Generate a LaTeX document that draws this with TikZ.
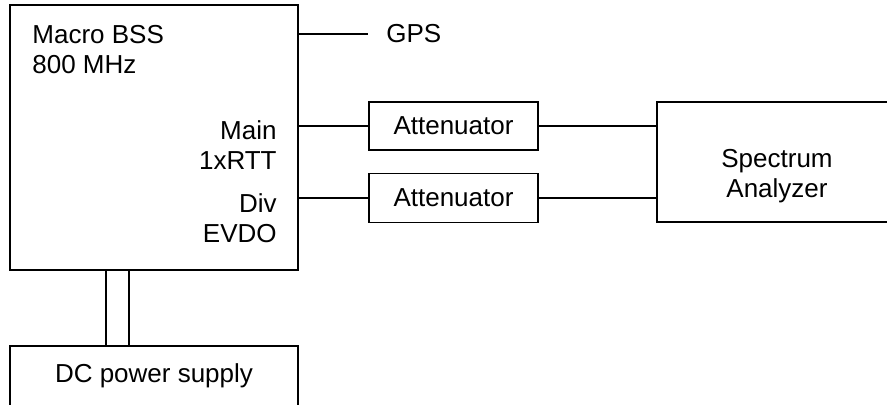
\documentclass[tikz,border=0pt]{standalone}
\usepackage{fontspec}
\setmainfont{Liberation Sans}

\begin{document}
\begin{tikzpicture}[x=0.5pt,y=-0.5pt,box/.style={draw,line width=0.8pt,inner sep=0pt},wire/.style={line width=0.75pt}]
    \tikzset{every node/.style={font=\fontsize{13}{15}\selectfont,align=center}}
    \useasboundingbox (0,0) rectangle (887,404);

    % base station
    \node [box,minimum width=144pt,minimum height=132.5pt] (bss) at (154,137.5) {};
    \node [anchor=north west,align=left,inner sep=0pt] (bsstxt) at (32,25) {Macro BSS\\800 MHz};
    \node [anchor=north east,align=right,inner sep=0pt] (main) at (277,120) {Main\\1xRTT};
    \node [anchor=north east,align=right,inner sep=0pt] (div) at (277,193) {Div\\EVDO};
    \node [anchor=west,inner xsep=9pt,inner ysep=0pt] (gps) at (368,34) {GPS};

    \node [box,minimum width=84.5pt,minimum height=24pt] (att1) at (453.5,126) {Attenuator};
    \node [box,minimum width=84.5pt,minimum height=24.5pt] (att2) at (453.5,198) {Attenuator};

    \node [box,minimum width=120pt,minimum height=60pt] (spec) at (777,162) {};
    \node [inner sep=0pt] (spectxt) at (777,176) {Spectrum\\Analyzer};

    \node [box,minimum width=144pt,minimum height=30pt] (dc) at (154,376) {DC power supply};

    \draw [wire] (bss.east |- gps) -- (gps.west);
    \draw [wire] (bss.east |- att1) -- (att1);
    \draw [wire] (bss.east |- att2) -- (att2);
    \draw [wire] (att1) -- (att1 -| spec.west);
    \draw [wire] (att2) -- (att2 -| spec.west);
    \draw [wire] ([xshift=48.5pt]bss.south west) -- ([xshift=48.5pt]dc.north west);
    \draw [wire] ([xshift=60pt]bss.south west) -- ([xshift=60pt]dc.north west);

\end{tikzpicture}
\end{document}
